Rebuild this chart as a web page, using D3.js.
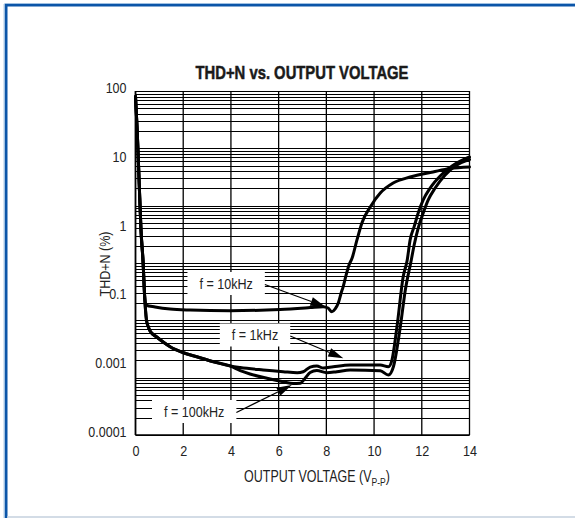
<!DOCTYPE html>
<html>
<head>
<meta charset="utf-8">
<script src="https://cdn.jsdelivr.net/npm/d3@7"></script>
<style>
  html, body { margin: 0; padding: 0; background: #fff; }
  svg { display: block; }
  .nar { font-family: "Liberation Sans", Arial, Helvetica, sans-serif; }
</style>
</head>
<body>
<svg id="chart" width="575" height="518"></svg>
<script>
// ---------------- data ----------------
const xTicks = [0, 2, 4, 6, 8, 10, 12, 14];
const yTickLabels = ["100", "10", "1", "0.1", "0.001", "0.0001"];

const v10k   = [0, 0.07, 0.15, 0.23, 0.32, 0.38, 0.44, 0.82, 1.45, 2.29, 3.97, 6.06, 7.32, 7.86, 8.07, 8.23, 8.37, 8.5, 8.62, 8.7, 8.83, 8.95, 9.08, 9.28, 9.49, 9.84, 10.26, 10.8, 11.51, 12.47, 13.19, 14];
const thd10k = [80, 20.9, 2.8, 0.376, 0.1, 0.0277, 0.0185, 0.0171, 0.0157, 0.0151, 0.0147, 0.0155, 0.0167, 0.0173, 0.0164, 0.0141, 0.0158, 0.020, 0.030, 0.038, 0.062, 0.092, 0.122, 0.25, 0.50, 0.95, 1.66, 2.48, 3.16, 3.87, 4.45, 4.72];

const v1k   = [0, 0.07, 0.15, 0.23, 0.32, 0.38, 0.42, 0.46, 0.54, 0.61, 0.89, 1.16, 1.45, 2.01, 2.57, 3.27, 3.97, 4.39, 5.35, 6.19, 6.78, 7.03, 7.32, 7.6, 7.87, 8.29, 9.0, 10.26, 10.6, 10.75, 10.96, 11.22, 11.39, 11.51, 11.68, 11.85, 12.06, 12.35, 12.77, 13.27, 14];
const thd1k = [80, 20.9, 2.8, 0.376, 0.1, 0.0277, 0.0151, 0.0101, 0.00764, 0.00651, 0.00512, 0.00419, 0.00347, 0.00272, 0.00232, 0.0019, 0.0016, 0.0015, 0.00136, 0.00127, 0.00122, 0.00127, 0.00153, 0.0016, 0.00147, 0.00155, 0.00166, 0.00166, 0.00155, 0.00203, 0.00774, 0.0577, 0.113, 0.252, 0.43, 0.745, 1.26, 2.03, 3.29, 4.92, 7.06];

const v100k   = [0, 0.07, 0.15, 0.23, 0.32, 0.38, 0.42, 0.46, 0.54, 0.61, 0.89, 1.16, 1.45, 2.01, 2.57, 3.27, 3.97, 4.39, 4.8, 5.51, 6.19, 6.61, 6.9, 7.11, 7.32, 7.6, 8.02, 8.44, 9.0, 10.26, 10.6, 10.81, 11.1, 11.31, 11.56, 11.68, 11.85, 12.06, 12.27, 12.56, 12.98, 13.4, 14];
const thd100k = [80, 20.9, 2.8, 0.376, 0.1, 0.0277, 0.0151, 0.0101, 0.00764, 0.00651, 0.00512, 0.00419, 0.00347, 0.00272, 0.00232, 0.0019, 0.0016, 0.00133, 0.00116, 0.000975, 0.00085, 0.00079, 0.0008, 0.000975, 0.00123, 0.00133, 0.00122, 0.00127, 0.00136, 0.00132, 0.00111, 0.00155, 0.00774, 0.0338, 0.113, 0.206, 0.407, 0.745, 1.26, 2.03, 3.43, 4.92, 6.38];

// annotation labels: text, box centre (voltage, thd), arrow tip (voltage, thd)
const annoText  = ["f = 10kHz", "f = 1kHz", "f = 100kHz"];
const annoBoxV  = [3.80, 5.01, 2.46];
const annoBoxT  = [0.0439, 0.00555, 0.000257];
const annoTipV  = [7.96, 8.71, 6.55];
const annoTipT  = [0.0173, 0.00218, 0.000745];

// ---------------- drawing ----------------
const svg = d3.select("#chart");
const W = 575, H = 518;
const M = { left: 135.5, right: 469.5, top: 91, bottom: 435 };

function narrow(sel, k) {
  sel.each(function () {
    const w = this.getComputedTextLength();
    d3.select(this).attr("textLength", w * k).attr("lengthAdjust", "spacingAndGlyphs");
  });
}

// frame
svg.append("rect").attr("x", 0).attr("y", 0).attr("width", W).attr("height", H).attr("fill", "#fff");
svg.append("line").attr("x1", 4.5).attr("x2", W).attr("y1", 3.6).attr("y2", 3.6).attr("stroke", "#9fc0e2").attr("stroke-width", 1.2);
svg.append("line").attr("x1", 4.2).attr("x2", 4.2).attr("y1", 4).attr("y2", H).attr("stroke", "#9fc0e2").attr("stroke-width", 1.2);
svg.append("line").attr("x1", 5).attr("x2", W).attr("y1", 5.3).attr("y2", 5.3).attr("stroke", "#0b55a8").attr("stroke-width", 2.6);
svg.append("line").attr("x1", 6.2).attr("x2", 6.2).attr("y1", 4).attr("y2", H).attr("stroke", "#0b55a8").attr("stroke-width", 2.6);
svg.append("line").attr("x1", 7).attr("x2", W).attr("y1", 517).attr("y2", 517).attr("stroke", "#c4d0de").attr("stroke-width", 1.5);

const x = d3.scaleLinear().domain([0, 14]).range([M.left, M.right]);
const y = d3.scaleLog().domain([0.0001, 100]).range([M.bottom, M.top]);
const yLab = d3.scalePoint().domain(yTickLabels).range([M.top, M.bottom]);

const g = svg.append("g");

// horizontal log grid
const yGrid = y.ticks();
g.append("g").selectAll("line").data(yGrid).join("line")
  .attr("x1", M.left).attr("x2", M.right)
  .attr("y1", d => Math.round(y(d)) + 0.5).attr("y2", d => Math.round(y(d)) + 0.5)
  .attr("stroke", "#000").attr("stroke-width", 1);

// vertical grid
g.append("g").selectAll("line").data(xTicks).join("line")
  .attr("x1", d => x(d)).attr("x2", d => x(d))
  .attr("y1", M.top).attr("y2", M.bottom)
  .attr("stroke", "#000").attr("stroke-width", 1.3);

// axis frame lines
g.append("line").attr("x1", M.left).attr("x2", M.right).attr("y1", M.bottom).attr("y2", M.bottom).attr("stroke", "#000").attr("stroke-width", 1.6);
g.append("line").attr("x1", M.left).attr("x2", M.left).attr("y1", M.top).attr("y2", M.bottom).attr("stroke", "#000").attr("stroke-width", 1.6);

// axes labels
const xAxis = d3.axisBottom(x).tickValues(xTicks).tickSize(0).tickPadding(10).tickFormat(d3.format("d"));
const xg = svg.append("g").attr("transform", `translate(0,${M.bottom})`).call(xAxis);
xg.select(".domain").remove();
xg.selectAll("text").attr("class", "nar").attr("font-size", 15).attr("fill", "#222");
narrow(xg.selectAll("text"), 0.84);

const yAxis = d3.axisLeft(yLab).tickSize(0).tickPadding(9);
const yg = svg.append("g").attr("transform", `translate(${M.left},0)`).call(yAxis);
yg.select(".domain").remove();
yg.selectAll("text").attr("class", "nar").attr("font-size", 14.5).attr("fill", "#222").attr("dy", "0.1em");
narrow(yg.selectAll("text"), 0.86);

// titles
svg.append("text").attr("x", 302).attr("y", 78.5).attr("text-anchor", "middle")
  .attr("class", "nar").attr("font-weight", "bold").attr("font-size", 18.5).attr("fill", "#1a1a1a")
  .attr("stroke", "#1a1a1a").attr("stroke-width", 0.5)
  .attr("textLength", 213).attr("lengthAdjust", "spacingAndGlyphs")
  .text("THD+N vs. OUTPUT VOLTAGE");

svg.append("text").attr("transform", "translate(110,264) rotate(-90)").attr("text-anchor", "middle")
  .attr("class", "nar").attr("font-size", 15.5).attr("fill", "#222")
  .attr("textLength", 65).attr("lengthAdjust", "spacingAndGlyphs").text("THD+N (%)");

// x-axis title, condensed with a horizontal scale so the subscript stays intact
const xtG = svg.append("g");
const xt = xtG.append("text").attr("x", 0).attr("y", 0).attr("text-anchor", "middle")
  .attr("class", "nar").attr("font-size", 16).attr("fill", "#222");
xt.append("tspan").text("OUTPUT VOLTAGE (V");
xt.append("tspan").attr("font-size", 11).attr("dy", 4).text("P-P");
xt.append("tspan").attr("dy", -4).text(")");
const xtW = xt.node().getBBox().width;
xtG.attr("transform", `translate(317,482) scale(${146 / xtW},1)`);

// curves
const line = d3.line().x(d => x(d[0])).y(d => y(d[1])).curve(d3.curveMonotoneX);
const series = [
  d3.zip(v10k, thd10k),
  d3.zip(v1k, thd1k),
  d3.zip(v100k, thd100k)
];
svg.append("g").selectAll("path").data(series).join("path")
  .attr("d", line).attr("fill", "none").attr("stroke", "#000")
  .attr("stroke-width", 3).attr("stroke-linejoin", "round").attr("stroke-linecap", "round");

// annotations
const annG = svg.append("g");
annoText.forEach((t, i) => {
  const cx = x(annoBoxV[i]), cy = y(annoBoxT[i]);
  const tx = x(annoTipV[i]), ty = y(annoTipT[i]);
  const txt = annG.append("text").attr("class", "nar").attr("x", cx).attr("y", cy + 5.5)
    .attr("text-anchor", "middle")
    .attr("font-size", 15.5).attr("fill", "#222").text(t);
  narrow(txt, 0.81);
  const tw = +txt.attr("textLength");
  const padX = 12;
  const left = cx - tw / 2 - padX, right = cx + tw / 2 + padX;
  annG.insert("rect", "text").attr("x", left).attr("y", cy - 11.5)
    .attr("width", right - left).attr("height", 23).attr("fill", "#fff");
  const sx = right, sy = cy + 1;
  const ang = Math.atan2(ty - sy, tx - sx);
  const L = 15, hw = 4.5;
  const bx = tx - L * Math.cos(ang), by = ty - L * Math.sin(ang);
  annG.append("line").attr("x1", sx).attr("y1", sy).attr("x2", bx).attr("y2", by)
    .attr("stroke", "#000").attr("stroke-width", 1.2);
  const px = -Math.sin(ang) * hw, py = Math.cos(ang) * hw;
  annG.append("path").attr("d", `M${tx},${ty}L${bx + px},${by + py}L${bx - px},${by - py}Z`).attr("fill", "#000");
});
</script>
</body>
</html>
